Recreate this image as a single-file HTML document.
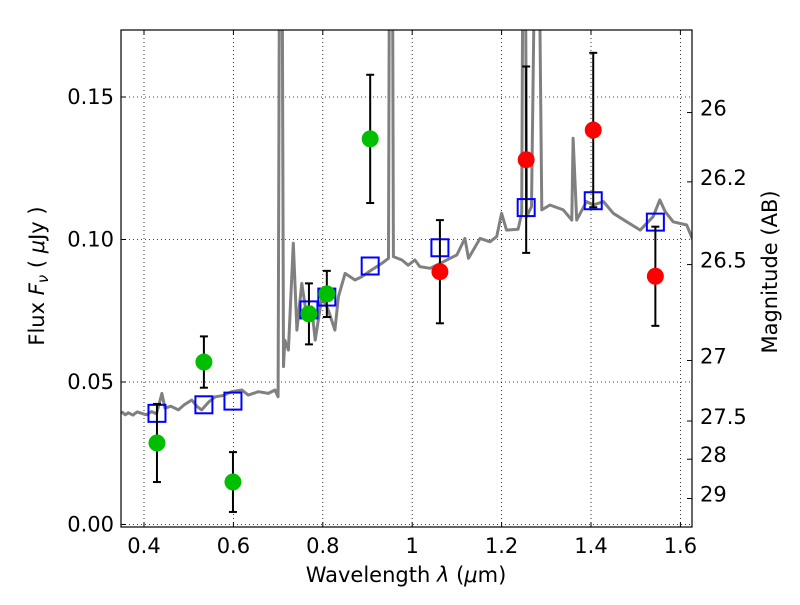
<!DOCTYPE html>
<html><head><meta charset="utf-8"><style>
html,body{margin:0;padding:0;background:#fff}
svg text{font-family:"DejaVu Sans","Liberation Sans",sans-serif;fill:#000}
</style></head><body>
<svg id="chart" width="800" height="600" xmlns="http://www.w3.org/2000/svg">
<rect width="800" height="600" fill="#fff"/>
<g id="grid"></g>
<g id="plot"></g>
<g id="axes"></g>
<text x="406" y="582" font-size="21" text-anchor="middle">Wavelength  <tspan font-style="italic">λ</tspan> (<tspan font-style="italic">μ</tspan>m)</text>
<text transform="translate(44,276) rotate(-90)" font-size="21" text-anchor="middle">Flux  <tspan font-style="italic">F<tspan font-size="15" dy="4">ν</tspan></tspan><tspan dy="-4">  ( </tspan><tspan font-style="italic">μ</tspan>Jy )</text>
<text transform="translate(777,272) rotate(-90)" font-size="21" text-anchor="middle">Magnitude (AB)</text>
</svg>
<script>
const xTicks=[0.4,0.6,0.8,1.0,1.2,1.4,1.6];
const xTickLabels=["0.4","0.6","0.8","1","1.2","1.4","1.6"];
const yTicks=[0,0.05,0.10,0.15];
const yTickLabels=["0.00","0.05","0.10","0.15"];
const magTicks=[26,26.2,26.5,27,27.5,28,29];
const magTickLabels=["26","26.2","26.5","27","27.5","28","29"];
const specLam=[0.35,0.358,0.365,0.375,0.385,0.395,0.405,0.417,0.428,0.44,0.447,0.46,0.477,0.49,0.507,0.518,0.529,0.545,0.559,0.575,0.596,0.619,0.633,0.656,0.678,0.693,0.700,0.704,0.708,0.712,0.715,0.723,0.734,0.742,0.753,0.764,0.775,0.783,0.798,0.812,0.827,0.835,0.850,0.872,0.887,0.909,0.932,0.947,0.950,0.953,0.955,0.958,0.977,0.991,1.006,1.017,1.040,1.070,1.100,1.118,1.126,1.152,1.174,1.189,1.200,1.211,1.237,1.245,1.249,1.252,1.256,1.267,1.278,1.281,1.290,1.308,1.338,1.357,1.360,1.368,1.390,1.405,1.428,1.450,1.480,1.510,1.539,1.554,1.566,1.584,1.614,1.628];
const specFlux=[0.0396,0.0385,0.0392,0.0384,0.0395,0.039,0.0385,0.0396,0.0388,0.046,0.0408,0.0415,0.0402,0.042,0.0437,0.0415,0.0402,0.043,0.0448,0.0452,0.0466,0.0472,0.0454,0.0466,0.046,0.0472,0.0448,0.25,0.25,0.0554,0.0647,0.0612,0.0987,0.0682,0.0846,0.0729,0.0764,0.0647,0.0799,0.0753,0.0682,0.0799,0.0881,0.0858,0.0869,0.0893,0.0916,0.0934,0.25,0.25,0.25,0.094,0.0928,0.091,0.0928,0.0905,0.0899,0.0922,0.0946,0.1004,0.0934,0.1004,0.0992,0.101,0.1092,0.1033,0.1036,0.1092,0.25,0.25,0.108,0.1115,0.25,0.25,0.1104,0.1121,0.1104,0.1068,0.1355,0.1068,0.1133,0.1121,0.1133,0.1092,0.1062,0.1033,0.108,0.1139,0.1098,0.1062,0.1051,0.0998];
const greenLam=[0.429,0.534,0.599,0.769,0.809,0.906];
const greenFlux=[0.0286,0.057,0.0149,0.0739,0.0809,0.1353];
const greenErr=[0.0137,0.009,0.0105,0.0107,0.0081,0.0225];
const redLam=[1.062,1.255,1.405,1.544];
const redFlux=[0.0887,0.128,0.1384,0.0871];
const redErr=[0.0181,0.0327,0.0271,0.0174];
const modelLam=[0.429,0.534,0.599,0.769,0.809,0.906,1.062,1.255,1.405,1.544];
const modelFlux=[0.039,0.042,0.0433,0.0753,0.0798,0.0907,0.0971,0.1112,0.1136,0.1061];

const L=121,R=692,T=30,B=527;
function X(v){return 144+(v-0.4)*447;}
function Y(v){return 524.5-v*2850;}
const NS="http://www.w3.org/2000/svg";
function mk(tag,attrs,parent){const e=document.createElementNS(NS,tag);for(const k in attrs)e.setAttribute(k,attrs[k]);parent.appendChild(e);return e;}
const grid=document.getElementById('grid'),plot=document.getElementById('plot'),axes=document.getElementById('axes');
const defs=mk('defs',{},document.getElementById('chart'));
const cp=mk('clipPath',{id:'clip'},defs);mk('rect',{x:L,y:T,width:R-L,height:B-T},cp);
plot.setAttribute('clip-path','url(#clip)');
xTicks.forEach((t,i)=>{
 const x=X(t);
 const g=mk('line',{x1:x,x2:x,y1:T,y2:B,stroke:'#000','stroke-width':0.8,'stroke-dasharray':'1,3'},grid);
 
 
 mk('line',{x1:x,x2:x,y1:B,y2:B-5,stroke:'#000'},axes);
 mk('line',{x1:x,x2:x,y1:T,y2:T+5,stroke:'#000'},axes);
 const tx=mk('text',{x:x,y:B+26,'font-size':21,'text-anchor':'middle'},axes);
 tx.textContent=xTickLabels[i];
 
 
});
yTicks.forEach((t,i)=>{
 const y=Y(t);
 const g=mk('line',{x1:L,x2:R,y1:y,y2:y,stroke:'#000','stroke-width':0.8,'stroke-dasharray':'1,3'},grid);
 
 
 mk('line',{x1:L,x2:L+5,y1:y,y2:y,stroke:'#000'},axes);
 const tx=mk('text',{x:L-7,y:y+7,'font-size':21,'text-anchor':'end'},axes);
 tx.textContent=yTickLabels[i];
 
 
});
magTicks.forEach((m,i)=>{
 const y=Y(Math.pow(10,(23.9-m)/2.5));
 mk('line',{x1:R-5,x2:R,y1:y,y2:y,stroke:'#000'},axes);
 const tx=mk('text',{x:R+8,y:y+3,'font-size':21},axes);
 tx.textContent=magTickLabels[i];
 
 
});
let d='';specLam.forEach((l,i)=>{d+=(i?'L':'M')+X(l).toFixed(1)+','+Y(specFlux[i]).toFixed(1);});
const sp=mk('path',{d:d,fill:'none',stroke:'#808080','stroke-width':3,'stroke-linejoin':'round'},plot);


modelLam.forEach((l,i)=>{
 const s=mk('rect',{x:X(l)-8.5,y:Y(modelFlux[i])-8.5,width:17,height:17,fill:'none',stroke:'#0000ff','stroke-width':2},plot);
 
 
});
function pts(lams,fl,er,col,name){
 lams.forEach((l,i)=>{
  const x=X(l);
  const eb=mk('g',{},plot);
  
  
  const y1=Y(fl[i]+er[i]),y2=Y(fl[i]-er[i]);
  mk('line',{x1:x,x2:x,y1:y1,y2:y2,stroke:'#000','stroke-width':2},eb);
  mk('line',{x1:x-4,x2:x+4,y1:y1,y2:y1,stroke:'#000','stroke-width':2},eb);
  mk('line',{x1:x-4,x2:x+4,y1:y2,y2:y2,stroke:'#000','stroke-width':2},eb);
  const c=mk('circle',{cx:x,cy:Y(fl[i]),r:8.5,fill:col},plot);
  
  
 });
}
pts(greenLam,greenFlux,greenErr,'#00bf00','hst-flux');
pts(redLam,redFlux,redErr,'#ff0000','nir-flux');
const fr=mk('rect',{x:L,y:T,width:R-L,height:B-T,fill:'none',stroke:'#000','stroke-width':1.2},axes);


</script>
</body></html>
